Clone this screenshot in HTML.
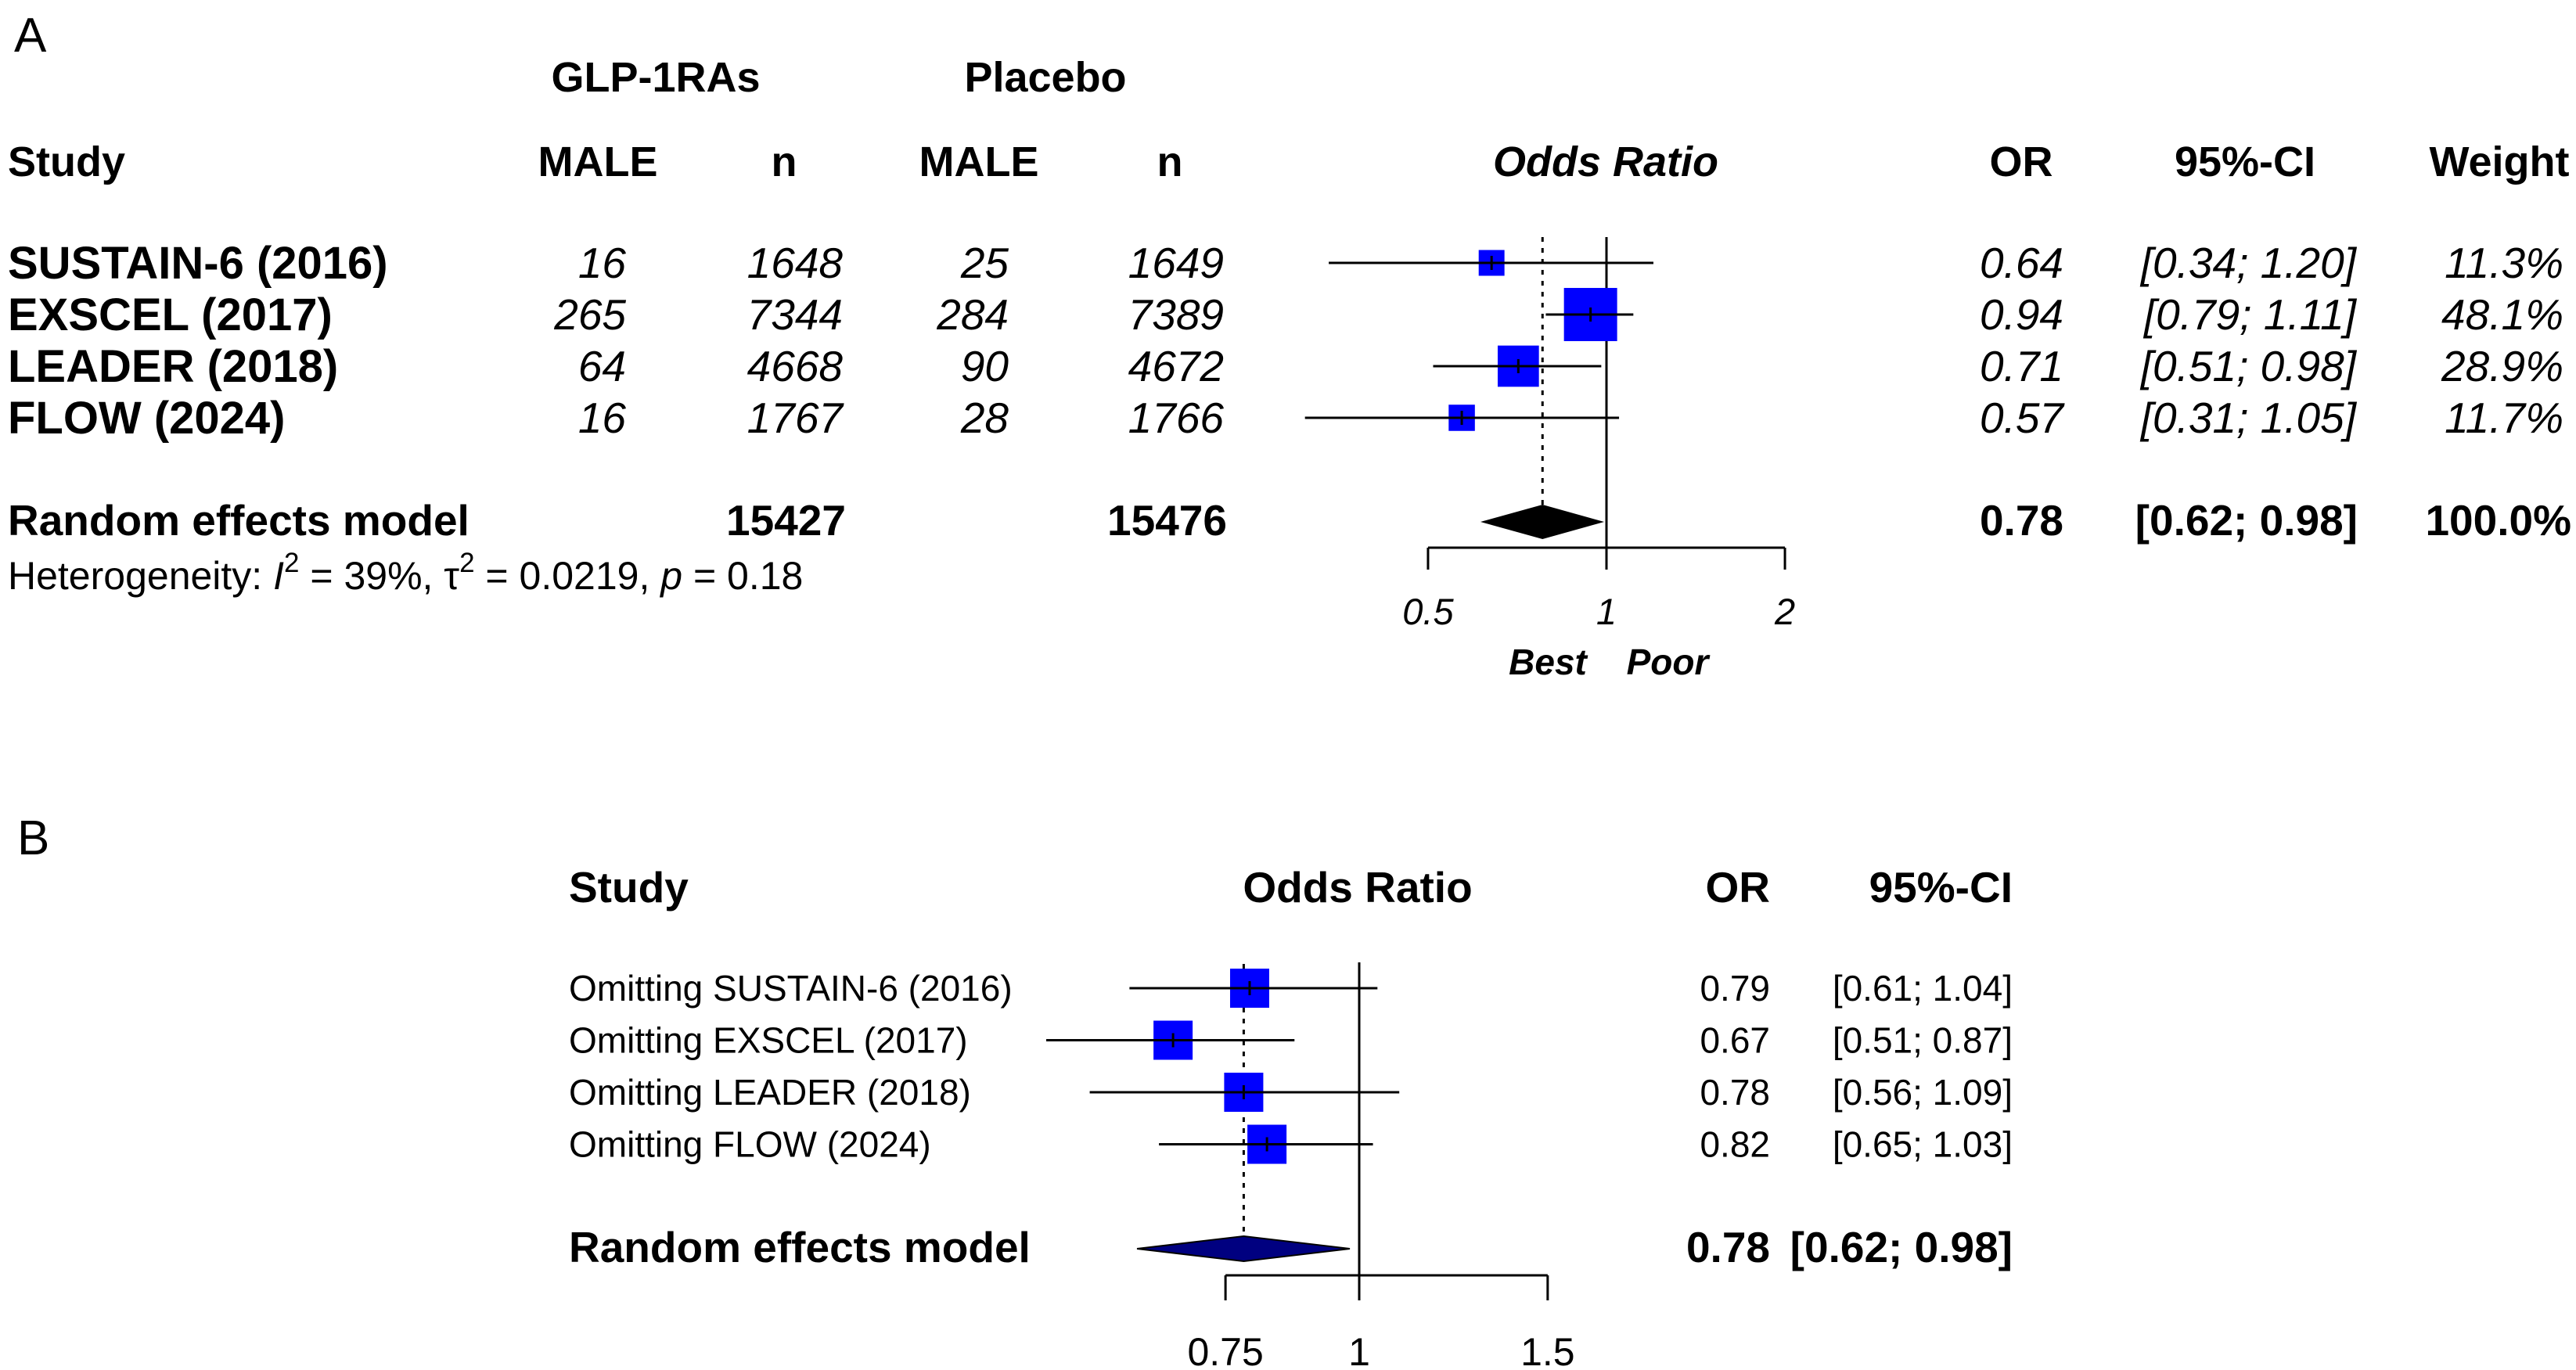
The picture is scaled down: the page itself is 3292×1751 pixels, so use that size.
<!DOCTYPE html>
<html><head><meta charset="utf-8">
<style>
html,body{margin:0;padding:0;background:#fff;}
svg{display:block;font-family:"Liberation Sans",Arial,sans-serif;}
</style></head>
<body>
<svg id="chart" width="3292" height="1751" viewBox="0 0 3292 1751" xmlns="http://www.w3.org/2000/svg">
<rect width="3292" height="1751" fill="#fff"/>
<text x="18" y="66" font-size="62">A</text>
<text x="838" y="117" font-size="54" font-weight="bold" text-anchor="middle">GLP-1RAs</text>
<text x="1336" y="117" font-size="54" font-weight="bold" text-anchor="middle">Placebo</text>
<g font-size="54" font-weight="bold">
<text x="10" y="225">Study</text>
<text x="764" y="225" text-anchor="middle">MALE</text>
<text x="1002" y="225" text-anchor="middle">n</text>
<text x="1251" y="225" text-anchor="middle">MALE</text>
<text x="1495" y="225" text-anchor="middle">n</text>
<text x="2052" y="225" text-anchor="middle" font-style="italic">Odds Ratio</text>
<text x="2583" y="225" text-anchor="middle">OR</text>
<text x="2869" y="225" text-anchor="middle">95%-CI</text>
<text x="3194" y="225" text-anchor="middle">Weight</text>
</g>
<text x="10" y="684" font-size="55" font-weight="bold">Random effects model</text>
<text x="1081" y="684" font-size="55" font-weight="bold" text-anchor="end">15427</text>
<text x="1568" y="684" font-size="55" font-weight="bold" text-anchor="end">15476</text>
<text x="10" y="753" font-size="50">Heterogeneity: <tspan font-style="italic">I</tspan><tspan dy="-22" font-size="35">2</tspan><tspan dy="22"> = 39%, τ</tspan><tspan dy="-22" font-size="35">2</tspan><tspan dy="22"> = 0.0219, </tspan><tspan font-style="italic">p</tspan> = 0.18</text>
<text x="1978" y="862" font-size="46" font-weight="bold" font-style="italic" text-anchor="middle">Best</text>
<text x="2131" y="862" font-size="46" font-weight="bold" font-style="italic" text-anchor="middle">Poor</text>

<text x="22" y="1092" font-size="62">B</text>
<g font-size="55" font-weight="bold">
<text x="727" y="1153">Study</text>
<text x="1735" y="1153" text-anchor="middle">Odds Ratio</text>
<text x="2262" y="1153" text-anchor="end">OR</text>
<text x="2572" y="1153" text-anchor="end">95%-CI</text>
</g>
<text x="727" y="1613" font-size="55" font-weight="bold">Random effects model</text>
<text x="2262" y="1613" font-size="55" font-weight="bold" text-anchor="end">0.78</text>
<text x="2572" y="1613" font-size="55" font-weight="bold" text-anchor="end">[0.62; 0.98]</text>
<g id="gA"></g>
<g id="gB"></g>
</svg>
<script>
// Panel A data
const studiesA = ["SUSTAIN-6 (2016)", "EXSCEL (2017)", "LEADER (2018)", "FLOW (2024)"];
const glpMale = [16, 265, 64, 16];
const glpN = [1648, 7344, 4668, 1767];
const plaMale = [25, 284, 90, 28];
const plaN = [1649, 7389, 4672, 1766];
const orA = [0.64, 0.94, 0.71, 0.57];
const loA = [0.34, 0.79, 0.51, 0.31];
const hiA = [1.20, 1.11, 0.98, 1.05];
const weightA = [11.3, 48.1, 28.9, 11.7];
const pooledA = [0.78, 0.62, 0.98];
const ticksA = [0.5, 1, 2];
const tickLabelsA = ["0.5", "1", "2"];
// Panel B data
const studiesB = ["Omitting SUSTAIN-6 (2016)", "Omitting EXSCEL (2017)", "Omitting LEADER (2018)", "Omitting FLOW (2024)"];
const orB = [0.79, 0.67, 0.78, 0.82];
const loB = [0.61, 0.51, 0.56, 0.65];
const hiB = [1.04, 0.87, 1.09, 1.03];
const pooledB = [0.78, 0.62, 0.98];
const ticksB = [0.75, 1, 1.5];
const tickLabelsB = ["0.75", "1", "1.5"];

const NS = "http://www.w3.org/2000/svg";
function mk(parent, tag, attrs, txt) {
  const e = document.createElementNS(NS, tag);
  for (const k in attrs) e.setAttribute(k, attrs[k]);
  if (txt !== undefined) e.textContent = txt;
  parent.appendChild(e);
  return e;
}
const xA = v => 2053 + 329 * Math.log(v);
const xB = v => 1737 + 594 * Math.log(v);
const rowA = i => 336 + i * 66;
const rowB = i => 1263 + i * 66.5;
const fmt2 = v => v.toFixed(2);

// ---- Panel A ----
const gA = document.getElementById("gA");
let e;
e = mk(gA, "line", {x1: xA(1), x2: xA(1), y1: 303, y2: 700, stroke: "#000", "stroke-width": 3});


e = mk(gA, "line", {x1: xA(pooledA[0]), x2: xA(pooledA[0]), y1: 303, y2: 646, stroke: "#000", "stroke-width": 3, "stroke-dasharray": "6,8"});


studiesA.forEach((s, i) => {
  const y = rowA(i);
  let t = mk(gA, "text", {x: 10, y: y + 20, "font-size": 58, "font-weight": "bold"}, s);
  
  
  const cols = [[800, glpMale[i]], [1077, glpN[i]], [1289, plaMale[i]], [1564, plaN[i]]];
  cols.forEach(c => {
    t = mk(gA, "text", {x: c[0], y: y + 19, "font-size": 55, "font-style": "italic", "text-anchor": "end"}, String(c[1]));
    
    
  });
  t = mk(gA, "text", {x: 2637, y: y + 19, "font-size": 55, "font-style": "italic", "text-anchor": "end"}, fmt2(orA[i]));
  
  
  t = mk(gA, "text", {x: 3011, y: y + 19, "font-size": 55, "font-style": "italic", "text-anchor": "end"}, "[" + fmt2(loA[i]) + "; " + fmt2(hiA[i]) + "]");
  
  
  t = mk(gA, "text", {x: 3276, y: y + 19, "font-size": 55, "font-style": "italic", "text-anchor": "end"}, weightA[i].toFixed(1) + "%");
  
  
  const sz = 9.8 * Math.sqrt(weightA[i]);
  let r = mk(gA, "rect", {x: xA(orA[i]) - sz / 2, y: y - sz / 2, width: sz, height: sz, fill: "#0000ff"});
  
  
  let l = mk(gA, "line", {x1: xA(loA[i]), x2: xA(hiA[i]), y1: y, y2: y, stroke: "#000", "stroke-width": 3});
  
  
  l = mk(gA, "line", {x1: xA(orA[i]), x2: xA(orA[i]), y1: y - 9, y2: y + 9, stroke: "#000", "stroke-width": 3});
  
  
});
e = mk(gA, "polygon", {points: `${xA(pooledA[1])},667 ${xA(pooledA[0])},646 ${xA(pooledA[2])},667 ${xA(pooledA[0])},688`, fill: "#000", stroke: "#000", "stroke-width": 2});


e = mk(gA, "text", {x: 2637, y: 684, "font-size": 55, "font-weight": "bold", "text-anchor": "end"}, fmt2(pooledA[0]));


e = mk(gA, "text", {x: 3013, y: 684, "font-size": 55, "font-weight": "bold", "text-anchor": "end"}, "[" + fmt2(pooledA[1]) + "; " + fmt2(pooledA[2]) + "]");


e = mk(gA, "text", {x: 3286, y: 684, "font-size": 55, "font-weight": "bold", "text-anchor": "end"}, "100.0%");


e = mk(gA, "line", {x1: xA(ticksA[0]), x2: xA(ticksA[ticksA.length - 1]), y1: 700, y2: 700, stroke: "#000", "stroke-width": 3});


ticksA.forEach((v, i) => {
  let l = mk(gA, "line", {x1: xA(v), x2: xA(v), y1: 700, y2: 728, stroke: "#000", "stroke-width": 3});
  
  
  let t = mk(gA, "text", {x: xA(v), y: 798, "font-size": 47, "font-style": "italic", "text-anchor": "middle"}, tickLabelsA[i]);
  
  
});

// ---- Panel B ----
const gB = document.getElementById("gB");
e = mk(gB, "line", {x1: xB(1), x2: xB(1), y1: 1230, y2: 1630, stroke: "#000", "stroke-width": 3});


e = mk(gB, "line", {x1: xB(pooledB[0]), x2: xB(pooledB[0]), y1: 1232, y2: 1578, stroke: "#000", "stroke-width": 3, "stroke-dasharray": "6,8"});


studiesB.forEach((s, i) => {
  const y = rowB(i);
  let t = mk(gB, "text", {x: 727, y: y + 16, "font-size": 46}, s);
  
  
  t = mk(gB, "text", {x: 2262, y: y + 16, "font-size": 46, "text-anchor": "end"}, fmt2(orB[i]));
  
  
  t = mk(gB, "text", {x: 2572, y: y + 16, "font-size": 46, "text-anchor": "end"}, "[" + fmt2(loB[i]) + "; " + fmt2(hiB[i]) + "]");
  
  
  const sz = 50;
  let r = mk(gB, "rect", {x: xB(orB[i]) - sz / 2, y: y - sz / 2, width: sz, height: sz, fill: "#0000ff"});
  
  
  let l = mk(gB, "line", {x1: xB(loB[i]), x2: xB(hiB[i]), y1: y, y2: y, stroke: "#000", "stroke-width": 3});
  
  
  l = mk(gB, "line", {x1: xB(orB[i]), x2: xB(orB[i]), y1: y - 9, y2: y + 9, stroke: "#000", "stroke-width": 3});
  
  
});
e = mk(gB, "polygon", {points: `${xB(pooledB[1])},1596 ${xB(pooledB[0])},1580 ${xB(pooledB[2])},1596 ${xB(pooledB[0])},1612`, fill: "#000080", stroke: "#000", "stroke-width": 2});


e = mk(gB, "line", {x1: xB(ticksB[0]), x2: xB(ticksB[ticksB.length - 1]), y1: 1630, y2: 1630, stroke: "#000", "stroke-width": 3});


ticksB.forEach((v, i) => {
  let l = mk(gB, "line", {x1: xB(v), x2: xB(v), y1: 1630, y2: 1662, stroke: "#000", "stroke-width": 3});
  
  
  let t = mk(gB, "text", {x: xB(v), y: 1745, "font-size": 50, "text-anchor": "middle"}, tickLabelsB[i]);
  
  
});
</script>
</body></html>
